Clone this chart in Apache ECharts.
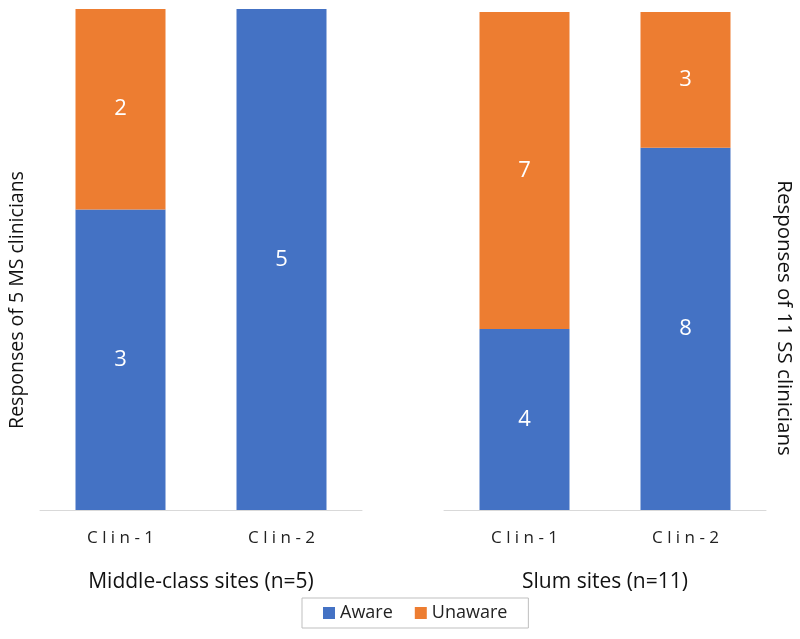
<!DOCTYPE html>
<html>
<head>
<meta charset="utf-8">
<script src="https://cdn.jsdelivr.net/npm/echarts@6/dist/echarts.min.js"></script>
<style>
  html, body { margin: 0; padding: 0; background: #fff; }
  #chart { width: 800px; height: 639px; }
</style>
</head>
<body>
<div id="chart"></div>
<script>
// clinics on each panel
var categories = ["Clin-1", "Clin-2"];
// middle-class sites (n=5)
var msAware = [3, 5];
var msUnaware = [2, 0];
// slum sites (n=11)
var ssAware = [4, 8];
var ssUnaware = [7, 3];

var BLUE = "#4472C4";
var ORANGE = "#ED7D31";
var FONT = "Open Sans";

var myChart = echarts.init(document.getElementById("chart"));

function spaced(val) {
  return val.split("").join(" ");
}

function barLabel(p) {
  return p.value ? p.value : "";
}

var labelStyle = {
  show: true,
  color: "#fff",
  fontSize: 22,
  fontFamily: FONT,
  formatter: barLabel,
};

var xAxisBase = {
  type: "category",
  data: categories,
  axisTick: { show: false },
  axisLine: { lineStyle: { color: "#d9d9d9", width: 1 } },
  axisLabel: {
    color: "#222",
    fontSize: 17,
    fontFamily: FONT,
    margin: 20,
    formatter: spaced,
  },
  nameLocation: "middle",
  nameGap: 62,
  nameTextStyle: { color: "#111", fontSize: 21, fontFamily: FONT },
};

var option = {
  animation: false,
  grid: [
    { left: 40, right: 438, top: 9, bottom: 129 },
    { left: 444, right: 34, top: 12, bottom: 129 },
  ],
  xAxis: [
    Object.assign({}, xAxisBase, { gridIndex: 0, name: "Middle-class sites (n=5)" }),
    Object.assign({}, xAxisBase, { gridIndex: 1, name: "Slum sites (n=11)" }),
  ],
  yAxis: [
    { type: "value", gridIndex: 0, min: 0, max: 5, show: false },
    { type: "value", gridIndex: 1, min: 0, max: 11, show: false },
  ],
  legend: {
    left: 302,
    top: 598,
    data: ["Aware", "Unaware"],
    icon: "rect",
    itemWidth: 12,
    itemHeight: 12,
    itemGap: 22,
    padding: [6, 21, 6, 21],
    borderColor: "#bfbfbf",
    borderWidth: 1,
    textStyle: { color: "#222", fontSize: 18, fontFamily: FONT },
  },
  graphic: [
    {
      type: "text",
      x: 17,
      y: 300,
      rotation: Math.PI / 2,
      style: {
        text: "Responses of 5 MS clinicians",
        fill: "#111",
        fontSize: 19.5,
        fontFamily: FONT,
        align: "center",
        verticalAlign: "middle",
      },
    },
    {
      type: "text",
      x: 784,
      y: 318,
      rotation: -Math.PI / 2,
      style: {
        text: "Responses of 11 SS clinicians",
        fill: "#111",
        fontSize: 20.5,
        fontFamily: FONT,
        align: "center",
        verticalAlign: "middle",
      },
    },
  ],
  series: [
    {
      name: "Aware",
      type: "bar",
      stack: "ms",
      xAxisIndex: 0,
      yAxisIndex: 0,
      barWidth: 90,
      data: msAware,
      itemStyle: { color: BLUE },
      label: labelStyle,
    },
    {
      name: "Unaware",
      type: "bar",
      stack: "ms",
      xAxisIndex: 0,
      yAxisIndex: 0,
      barWidth: 90,
      data: msUnaware,
      itemStyle: { color: ORANGE },
      label: labelStyle,
    },
    {
      name: "Aware",
      type: "bar",
      stack: "ss",
      xAxisIndex: 1,
      yAxisIndex: 1,
      barWidth: 90,
      data: ssAware,
      itemStyle: { color: BLUE },
      label: labelStyle,
    },
    {
      name: "Unaware",
      type: "bar",
      stack: "ss",
      xAxisIndex: 1,
      yAxisIndex: 1,
      barWidth: 90,
      data: ssUnaware,
      itemStyle: { color: ORANGE },
      label: labelStyle,
    },
  ],
};

myChart.setOption(option);
</script>
</body>
</html>
